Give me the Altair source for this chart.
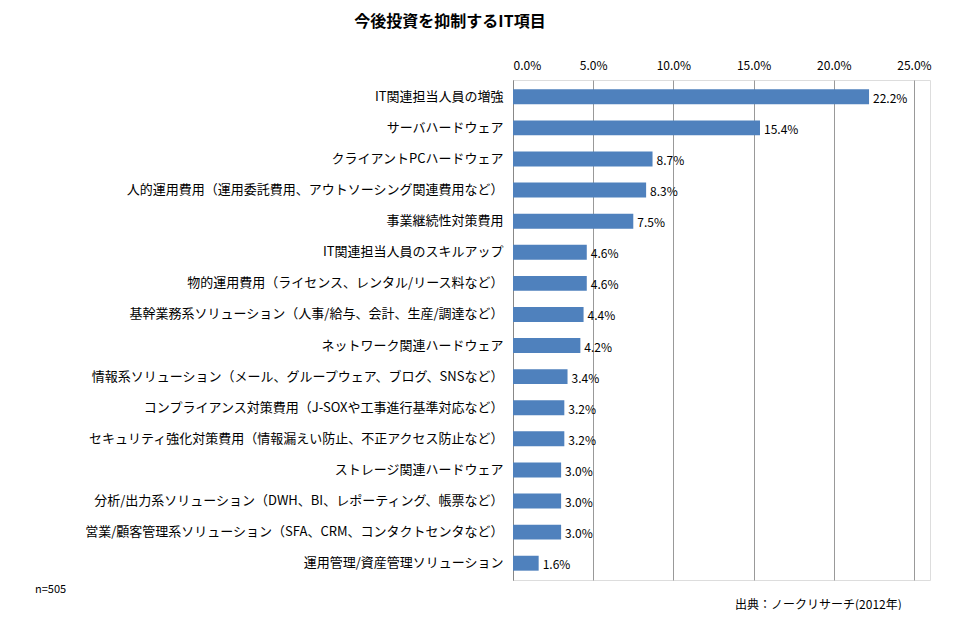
import pandas as pd
import altair as alt

items = [
    "IT関連担当人員の増強",
    "サーバハードウェア",
    "クライアントPCハードウェア",
    "人的運用費用（運用委託費用、アウトソーシング関連費用など）",
    "事業継続性対策費用",
    "IT関連担当人員のスキルアップ",
    "物的運用費用（ライセンス、レンタル/リース料など）",
    "基幹業務系ソリューション（人事/給与、会計、生産/調達など）",
    "ネットワーク関連ハードウェア",
    "情報系ソリューション（メール、グループウェア、ブログ、SNSなど）",
    "コンプライアンス対策費用（J-SOXや工事進行基準対応など）",
    "セキュリティ強化対策費用（情報漏えい防止、不正アクセス防止など）",
    "ストレージ関連ハードウェア",
    "分析/出力系ソリューション（DWH、BI、レポーティング、帳票など）",
    "営業/顧客管理系ソリューション（SFA、CRM、コンタクトセンタなど）",
    "運用管理/資産管理ソリューション",
]
values = [22.2, 15.4, 8.7, 8.3, 7.5, 4.6, 4.6, 4.4, 4.2, 3.4, 3.2, 3.2, 3.0, 3.0, 3.0, 1.6]

df = pd.DataFrame({"item": items, "v": [v / 100 for v in values]})
FONT = "Noto Sans CJK JP"

base = alt.Chart(df).encode(
    y=alt.Y("item:N", sort=items, title=None,
            scale=alt.Scale(paddingInner=0.52, paddingOuter=0.3),
            axis=alt.Axis(ticks=False, labelFontSize=13, labelColor="#000",
                          labelFont=FONT, labelPadding=10, labelLimit=600,
                          domainColor="#888")),
)

bars = base.mark_bar(color="#4F81BD").encode(
    x=alt.X("v:Q", title=None, scale=alt.Scale(domain=[0, 0.25]),
            axis=alt.Axis(orient="top", format=".1%", values=[0, 0.05, 0.1, 0.15, 0.2, 0.25],
                          ticks=False, domain=False, gridColor="#999", labelFontSize=12,
                          labelColor="#000", labelFont=FONT, labelPadding=8)),
)
labels = base.mark_text(align="left", dx=4, dy=2, fontSize=12, font=FONT, color="#000").encode(
    x="v:Q", text=alt.Text("v:Q", format=".1%"))

title = alt.Chart(pd.DataFrame({"t": ["今後投資を抑制するIT項目"]})).mark_text(
    fontSize=16, fontWeight="bold", font=FONT, color="#000").encode(
    x=alt.value(-63), y=alt.value(-58), text="t:N")
n = alt.Chart(pd.DataFrame({"t": ["n=505"]})).mark_text(
    fontSize=11, font=FONT, align="left", color="#000").encode(
    x=alt.value(-478), y=alt.value(510), text="t:N")
src = alt.Chart(pd.DataFrame({"t": ["出典：ノークリサーチ(2012年)"]})).mark_text(
    fontSize=12, font=FONT, align="left", color="#000").encode(
    x=alt.value(222), y=alt.value(525), text="t:N")

chart = alt.layer(bars, labels, title, n, src).properties(
    width=417, height=500, autosize=alt.AutoSizeParams(type="none"),
    padding={"left": 505, "top": 72, "right": 10, "bottom": 30},
).configure_view(stroke=None).configure(background="white")

chart.save("out.html", embed_options={"renderer": "svg", "actions": False})
